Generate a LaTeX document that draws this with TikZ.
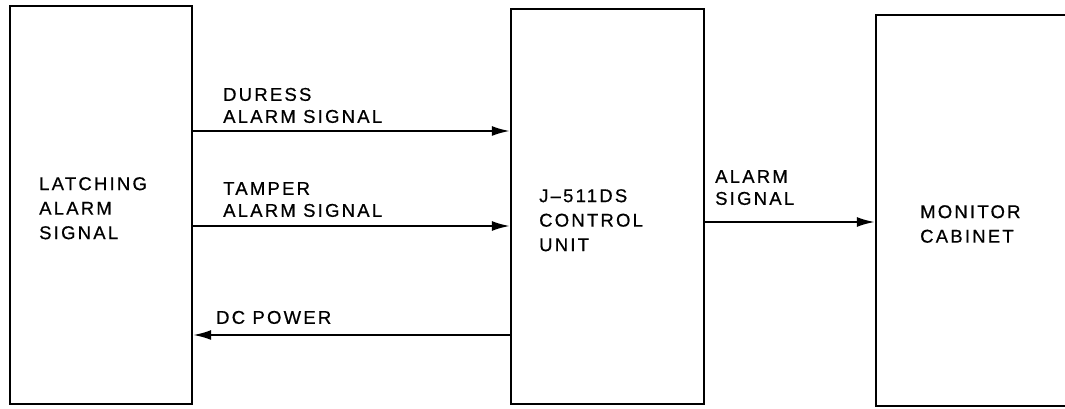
\documentclass[tikz,border=0pt]{standalone}
\usepackage{fontspec}
\setmainfont{Liberation Sans}[LetterSpace=12,FakeBold=0.6]
\usetikzlibrary{arrows.meta}

\begin{document}
\begin{tikzpicture}[x=1pt,y=1pt,
  unit/.style={draw,line width=2.4pt,inner sep=0pt},
  boxtext/.style={anchor=north west,align=left,inner sep=0pt,
                  font=\fontsize{18.5}{24.5}\selectfont},
  sigtext/.style={anchor=south west,align=left,inner sep=0pt,
                  font=\fontsize{18.5}{22}\selectfont},
  sig/.style={line width=2pt,-{Latex[length=18pt,width=10pt]}}]
  \useasboundingbox (0,0) rectangle (1065,409);
  % the three units
  \node[unit,minimum width=182,minimum height=398] (latch) at (101,204) {};
  \node[unit,minimum width=193,minimum height=395] (ctrl) at (607.5,202.5) {};
  \node[unit,minimum width=199,minimum height=391] (mon) at (975.5,198.5) {};
  \node[boxtext] (tlatch) at (39,232) {LATCHING\\ALARM\\SIGNAL};
  \node[boxtext] (tctrl) at (539,220) {J--511DS\\CONTROL\\UNIT};
  \node[boxtext] (tmon) at (920,204) {MONITOR\\CABINET};

  % signal lines
  \draw[sig] (latch.east |- 0,278) -- (ctrl.west |- 0,278)
    node[sigtext,pos=0,xshift=29,yshift=7] (lduress) {DURESS\\ALARM SIGNAL};
  \draw[sig] (latch.east |- 0,183) -- (ctrl.west |- 0,183)
    node[sigtext,pos=0,xshift=29,yshift=8] (ltamper) {TAMPER\\ALARM SIGNAL};
  \draw[sig] (ctrl.west |- 0,74) -- (latch.east |- 0,74)
    node[sigtext,pos=1,xshift=22,yshift=10] (ldc) {DC POWER};
  \draw[sig] (ctrl.east |- 0,187) -- (mon.west |- 0,187)
    node[sigtext,pos=0,xshift=9,yshift=16] (lalarm) {ALARM\\SIGNAL};
\end{tikzpicture}
\end{document}
